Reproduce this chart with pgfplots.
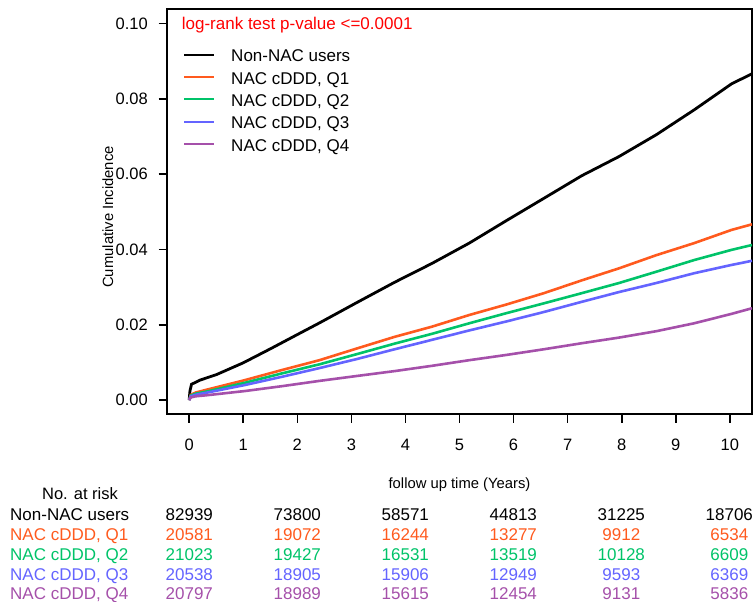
\documentclass[border=0pt]{standalone}
\usepackage{fontspec}
\setmainfont{Liberation Sans}
\usepackage{pgfplots}
\pgfplotsset{compat=1.18}

\definecolor{qone}{RGB}{255,90,30}
\definecolor{qtwo}{RGB}{0,195,105}
\definecolor{qthree}{RGB}{100,100,255}
\definecolor{qfour}{RGB}{165,80,170}

\newcommand{\fs}[1]{\fontsize{#1bp}{#1bp}\selectfont}

\begin{document}
\begin{tikzpicture}
\useasboundingbox (0,0) rectangle (755bp,-602bp);
\begin{axis}[
    at={(167bp,-414bp)}, anchor=south west,
    scale only axis,
    width=585bp, height=405bp,
    xmin=-0.41, xmax=10.41,
    ymin=-0.0037, ymax=0.1039,
    xtick={0,1,...,10},
    ytick={0,0.02,0.04,0.06,0.08,0.10},
    xtick pos=left, ytick pos=left,
    tick align=outside,
    major tick length=8.5bp,
    every tick/.style={black, line width=1.6bp},
    axis line style={black, line width=1.6bp},
    tick label style={/pgf/number format/assume math mode=true},
    xticklabel style={font=\fs{16.5}, inner sep=0pt, text height=11.8bp, text depth=0pt},
    yticklabel style={font=\fs{16.5}, inner sep=0pt,
        /pgf/number format/.cd, fixed, fixed zerofill, precision=2},
    xticklabel shift=15.8bp,
    yticklabel shift=10.5bp,
    legend cell align=left,
    legend image code/.code={\draw[#1, line width=2bp] (0bp,0bp) -- (30bp,0bp);},
    legend style={at={(axis description cs:0.0274,0.905)}, anchor=north west,
        draw=none, fill=none, inner sep=0pt,
        font=\fs{17}, row sep=8.4bp, column sep=16bp,
        nodes={inner sep=0pt, text height=14bp, text depth=0pt}},
]
\addplot[black, line width=2.8bp] coordinates {
(0,0) (0.015,0.0025) (0.044,0.0042) (0.2,0.0053) (0.51,0.0068) (1.0,0.0099)
(1.5,0.0136) (2.0,0.0174) (2.41,0.0205) (3.10,0.0259) (3.80,0.0313)
(4.49,0.0363) (5.18,0.0417) (5.87,0.0477) (6.56,0.0536) (7.26,0.0596)
(7.95,0.0647) (8.64,0.0705) (9.34,0.0771) (10.03,0.0840) (10.41,0.0867)
};
\addlegendentry{Non-NAC users}
\addplot[qone, line width=2.6bp] coordinates {
(0,0) (0.03,0.0014) (0.12,0.0020) (0.335,0.0028) (1.03,0.0053) (1.72,0.0080) (2.41,0.0106)
(3.10,0.0137) (3.80,0.0168) (4.49,0.0195) (5.18,0.0226) (5.87,0.0254)
(6.56,0.0284) (7.26,0.0318) (7.95,0.0350) (8.64,0.0385) (9.34,0.0417)
(10.03,0.0452) (10.41,0.0467)
};
\addlegendentry{NAC cDDD, Q1}
\addplot[qtwo, line width=2.6bp] coordinates {
(0,0) (0.03,0.0012) (0.12,0.0017) (0.335,0.0023) (1.03,0.0046) (1.72,0.0071) (2.41,0.0095)
(3.10,0.0122) (3.80,0.0150) (4.49,0.0176) (5.18,0.0204) (5.87,0.0231)
(6.56,0.0257) (7.26,0.0284) (7.95,0.0311) (8.64,0.0341) (9.34,0.0372)
(10.03,0.0399) (10.41,0.0412)
};
\addlegendentry{NAC cDDD, Q2}
\addplot[qthree, line width=2.6bp] coordinates {
(0,0) (0.03,0.0010) (0.12,0.0014) (0.335,0.0020) (1.03,0.0040) (1.72,0.0062) (2.41,0.0085)
(3.10,0.0109) (3.80,0.0135) (4.49,0.0160) (5.18,0.0185) (5.87,0.0209)
(6.56,0.0234) (7.26,0.0261) (7.95,0.0287) (8.64,0.0311) (9.34,0.0337)
(10.03,0.0359) (10.41,0.0370)
};
\addlegendentry{NAC cDDD, Q3}
\addplot[qfour, line width=2.6bp] coordinates {
(0,0) (0.03,0.0007) (0.12,0.0010) (0.335,0.0013) (1.03,0.0024) (1.72,0.0037) (2.41,0.0051)
(3.10,0.0064) (3.80,0.0077) (4.49,0.0091) (5.18,0.0106) (5.87,0.0120)
(6.56,0.0135) (7.26,0.0151) (7.95,0.0166) (8.64,0.0183) (9.34,0.0204)
(10.03,0.0229) (10.41,0.0244)
};
\addlegendentry{NAC cDDD, Q4}
\end{axis}

% p-value annotation
\node[anchor=base west, inner sep=0pt, red, font=\fs{17}] at (181.7bp,-29.3bp) {log-rank test p-value <=0.0001};

% axis titles
\node[anchor=base, inner sep=0pt, font=\fs{14.8}] at (459.5bp,-488.7bp) {follow up time (Years)};
\node[anchor=base, rotate=90, inner sep=0pt, font=\fs{14.8}] at (113bp,-217bp) {Cumulative Incidence};

% number at risk table
\node[anchor=base, inner sep=0pt, font=\fs{16.5}] at (80bp,-499.3bp) {No. at risk};
\foreach \lab/\col/\y/\a/\b/\c/\d/\e/\f in {
    Non-NAC users/black/520/82939/73800/58571/44813/31225/18706,
    {NAC cDDD, Q1}/qone/540.5/20581/19072/16244/13277/9912/6534,
    {NAC cDDD, Q2}/qtwo/560.5/21023/19427/16531/13519/10128/6609,
    {NAC cDDD, Q3}/qthree/580/20538/18905/15906/12949/9593/6369,
    {NAC cDDD, Q4}/qfour/599.5/20797/18989/15615/12454/9131/5836} {
  \node[anchor=base west, inner sep=0pt, text=\col, font=\fs{17}] at (10bp,-\y bp) {\lab};
  \node[anchor=base, inner sep=0pt, text=\col, font=\fs{17}] at (189.3bp,-\y bp) {\a};
  \node[anchor=base, inner sep=0pt, text=\col, font=\fs{17}] at (297.3bp,-\y bp) {\b};
  \node[anchor=base, inner sep=0pt, text=\col, font=\fs{17}] at (405.3bp,-\y bp) {\c};
  \node[anchor=base, inner sep=0pt, text=\col, font=\fs{17}] at (513.3bp,-\y bp) {\d};
  \node[anchor=base, inner sep=0pt, text=\col, font=\fs{17}] at (621.3bp,-\y bp) {\e};
  \node[anchor=base, inner sep=0pt, text=\col, font=\fs{17}] at (729.3bp,-\y bp) {\f};
}
\end{tikzpicture}
\end{document}
